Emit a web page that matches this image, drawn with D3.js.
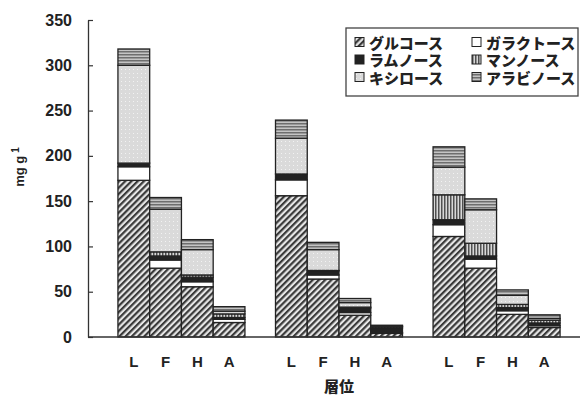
<!DOCTYPE html>
<html>
<head>
<meta charset="utf-8">
<script src="https://cdn.jsdelivr.net/npm/d3@7"></script>
<style>
  body { margin: 0; background: #fff; }
  svg { display: block; }
</style>
</head>
<body>
<svg id="chart" width="582" height="399"></svg>
<script>
// sites (3 unlabeled groups) x layers
const sites = ["1", "2", "3"];
const layers = ["L", "F", "H", "A"];

// values per bar, order: site1 L F H A, site2 L F H A, site3 L F H A
const glucose   = [173, 76, 55.5, 16,   156, 64, 24, 4,     111, 76, 25, 10.5];
const galactose = [15,  9,  5.5,  3.5,  17.5, 4.5, 3, 1,    13, 10, 4, 2];
const rhamnose  = [4,   4.5, 5,   2,    6.5, 4.5, 5, 5,     5.5, 3.5, 3.5, 3];
const mannose   = [0,   4.5, 2.5, 4,    0,   0.5, 1, 1.5,   27.5, 14, 3.5, 3];
const xylose    = [108, 47, 28,   3,    39.5, 23, 5, 0.5,   30.5, 37, 10, 2];
const arabinose = [18,  13, 11,   5,    20,  8,  4.5, 1,    22.5, 12, 6, 4];

const keys = ["glu", "gal", "rha", "man", "xyl", "ara"];
const names = ["グルコース", "ガラクトース", "ラムノース", "マンノース", "キシロース", "アラビノース"];
const yTicks = [0, 50, 100, 150, 200, 250, 300, 350];

const margin = {"top": 20, "left": 88, "bottom": 337}

let rows = [];
sites.forEach((s, si) => {
  layers.forEach((l, li) => {
    let i = si * layers.length + li;
    rows.push({
      site: s, layer: l,
      glu: glucose[i], gal: galactose[i], rha: rhamnose[i],
      man: mannose[i], xyl: xylose[i], ara: arabinose[i]
    });
  });
});

const svg = d3.select("#chart");
const font = "'Liberation Sans', Arial, sans-serif";
const jfont = "'Noto Sans CJK JP', sans-serif";

// patterns
const defs = svg.append("defs");

let p = defs.append("pattern")
  .attr("id", "p-glu").attr("patternUnits", "userSpaceOnUse")
  .attr("width", 4.4).attr("height", 4.4)
  .attr("patternTransform", "rotate(45)");
p.append("rect").attr("width", 4.4).attr("height", 4.4).attr("fill", "#e6e6e6");
p.append("rect").attr("width", 2.2).attr("height", 4.4).attr("fill", "#3a3a3a");

p = defs.append("pattern")
  .attr("id", "p-gal").attr("patternUnits", "userSpaceOnUse")
  .attr("width", 4).attr("height", 4);
p.append("rect").attr("width", 4).attr("height", 4).attr("fill", "#ffffff");

p = defs.append("pattern")
  .attr("id", "p-rha").attr("patternUnits", "userSpaceOnUse")
  .attr("width", 4).attr("height", 4);
p.append("rect").attr("width", 4).attr("height", 4).attr("fill", "#222222");

p = defs.append("pattern")
  .attr("id", "p-man").attr("patternUnits", "userSpaceOnUse")
  .attr("width", 3).attr("height", 3);
p.append("rect").attr("width", 3).attr("height", 3).attr("fill", "#d8d8d8");
p.append("rect").attr("width", 1.5).attr("height", 3).attr("fill", "#505050");

p = defs.append("pattern")
  .attr("id", "p-xyl").attr("patternUnits", "userSpaceOnUse")
  .attr("width", 4).attr("height", 4);
p.append("rect").attr("width", 4).attr("height", 4).attr("fill", "#dadada");
p.append("rect").attr("x", 1).attr("y", 1).attr("width", 1).attr("height", 1).attr("fill", "#f2f2f2");

p = defs.append("pattern")
  .attr("id", "p-ara").attr("patternUnits", "userSpaceOnUse")
  .attr("width", 3).attr("height", 3);
p.append("rect").attr("width", 3).attr("height", 3).attr("fill", "#c4c4c4");
p.append("rect").attr("width", 3).attr("height", 1.5).attr("fill", "#6e6e6e");

// scales
const x0 = d3.scaleBand().domain(sites).range([88, 590]).paddingInner(0.194).paddingOuter(0.19);
const x1 = d3.scaleBand().domain(layers).range([0, x0.bandwidth()]).padding(0);
const y = d3.scaleLinear().domain([0, 350]).range([margin.bottom, margin.top]);

const stack = d3.stack().keys(keys);
const series = stack(rows);

// bars
const bars = svg.append("g");
series.forEach((s) => {
  bars.append("g")
    .selectAll("rect")
    .data(s)
    .enter()
    .append("rect")
    .attr("x", (d) => x0(d.data.site) + x1(d.data.layer))
    .attr("y", (d) => y(d[1]))
    .attr("width", x1.bandwidth())
    .attr("height", (d) => y(d[0]) - y(d[1]))
    .attr("fill", "url(#p-" + s.key + ")")
    .attr("stroke", "#222")
    .attr("stroke-width", 1.3);
});

// y axis
const yAxis = svg.append("g")
  .attr("transform", "translate(" + margin.left + ",0)")
  .call(d3.axisLeft(y).tickValues(yTicks).tickSizeInner(-5).tickSizeOuter(0).tickPadding(16));
yAxis.select(".domain").attr("stroke", "#333").attr("stroke-width", 1.3);
yAxis.selectAll(".tick line").attr("stroke", "#333").attr("stroke-width", 1.2);
yAxis.selectAll(".tick text")
  .attr("font-family", font)
  .attr("font-weight", "bold")
  .attr("font-size", 16)
  .attr("fill", "#222");

// x axis line
svg.append("line")
  .attr("x1", margin.left).attr("x2", 580)
  .attr("y1", y(0)).attr("y2", y(0))
  .attr("stroke", "#333").attr("stroke-width", 1.3);

// layer labels
svg.append("g")
  .selectAll("text")
  .data(rows)
  .enter()
  .append("text")
  .attr("x", (d) => x0(d.site) + x1(d.layer) + x1.bandwidth() / 2)
  .attr("y", 363)
  .attr("text-anchor", "middle")
  .attr("dominant-baseline", "middle")
  .attr("font-family", font)
  .attr("font-weight", "bold")
  .attr("font-size", 15)
  .attr("fill", "#222")
  .text((d) => d.layer);

// axis titles
svg.append("text")
  .attr("x", 339)
  .attr("y", 388)
  .attr("text-anchor", "middle")
  .attr("dominant-baseline", "middle")
  .attr("font-family", jfont)
  .attr("font-weight", 900)
  .attr("font-size", 15)
  .attr("fill", "#222")
  .text("層位");

const ylab = svg.append("text")
  .attr("transform", "translate(24,167) rotate(-90)")
  .attr("text-anchor", "middle")
  .attr("font-family", font)
  .attr("font-weight", "bold")
  .attr("font-size", 13)
  .attr("fill", "#222");
ylab.append("tspan").text("mg g");
ylab.append("tspan").attr("dx", 3).attr("dy", -5).attr("font-size", 10).text("1");

// legend
const legend = svg.append("g");
legend.append("rect")
  .attr("x", 346).attr("y", 28)
  .attr("width", 232).attr("height", 68)
  .attr("fill", "#fff")
  .attr("stroke", "#444")
  .attr("stroke-width", 1.3);

const item = legend.selectAll("g")
  .data(keys)
  .enter()
  .append("g")
  .attr("transform", (k, i) => "translate(" + (355 + (i % 2) * 117) + "," + (42 + Math.floor(i / 2) * 17.5) + ")");
item.append("rect")
  .attr("x", 0).attr("y", -4.5)
  .attr("width", 9).attr("height", 9)
  .attr("fill", (k) => "url(#p-" + k + ")")
  .attr("stroke", "#222")
  .attr("stroke-width", 1);
item.append("text")
  .attr("x", 14)
  .attr("y", 0)
  .attr("dominant-baseline", "central")
  .attr("font-family", jfont)
  .attr("font-weight", 900)
  .attr("font-size", 15)
  .attr("fill", "#222")
  .text((k, i) => names[i]);
</script>
</body>
</html>
